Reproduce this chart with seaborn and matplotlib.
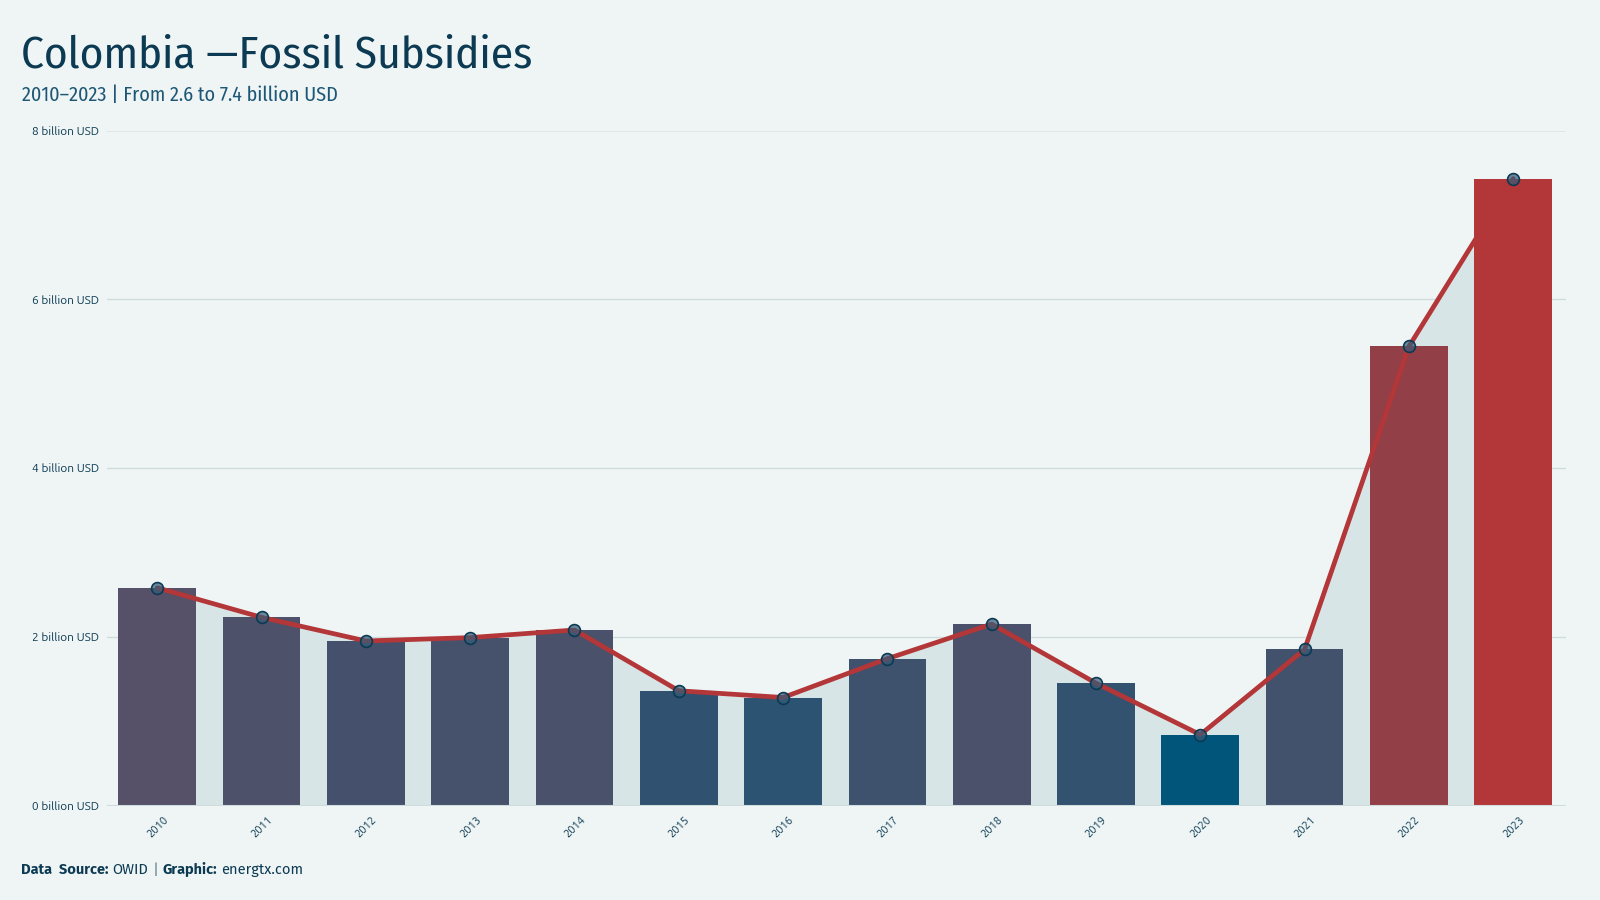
import numpy as np
import pandas as pd
import matplotlib.pyplot as plt
import matplotlib.colors as mcolors
import seaborn as sns

# values (billion USD)
YEARS = ["2010", "2011", "2012", "2013", "2014", "2015", "2016",
         "2017", "2018", "2019", "2020", "2021", "2022", "2023"]
SUBSIDIES = [2.58, 2.23, 1.95, 1.99, 2.08, 1.36, 1.28,
             1.74, 2.15, 1.45, 0.84, 1.85, 5.44, 7.43]
Y_TICKS = [0, 2, 4, 6, 8]

BG = "#eff5f5"
NAVY = "#0b3a52"
RED = "#b33638"
FILL = "#d8e5e6"
GRID = "#cfdcdc"
TITLE_FONT = ["Fira Sans Condensed", "Encode Sans Condensed", "DejaVu Sans"]
FOOT_FONT = ["Fira Sans", "Noto Sans", "DejaVu Sans"]

sns.set_theme(style="white")
plt.rcParams["font.family"] = ["Ubuntu", "Noto Sans", "DejaVu Sans"]

df = pd.DataFrame({"year": YEARS, "value": SUBSIDIES})

# blue -> muted purple -> red, low values blue, high values red
cmap = mcolors.LinearSegmentedColormap.from_list(
    "subs", [(0.0, "#02557a"), (0.52, "#575068"), (1.0, RED)])
norm = mcolors.PowerNorm(gamma=0.5, vmin=min(SUBSIDIES), vmax=max(SUBSIDIES))
palette = {y: cmap(norm(v)) for y, v in zip(YEARS, SUBSIDIES)}

fig = plt.figure(figsize=(16, 9), dpi=100, facecolor=BG)
ax = fig.add_axes([0.067, 0.105, 0.912, 0.75])
ax.set_facecolor(BG)

pos = np.arange(len(YEARS))
ax.fill_between(pos, df["value"], 0, color=FILL, lw=0, zorder=1)

sns.barplot(data=df, x="year", y="value", hue="year", palette=palette,
            width=0.745, saturation=1, legend=False, linewidth=0, ax=ax)
for p in ax.patches:
    p.set_zorder(2)
ax.patches[-1].set_zorder(4)

ax.plot(pos, df["value"], color=RED, lw=3.4, zorder=3, solid_capstyle="round")
ax.plot(pos, df["value"], ls="none", marker="o", ms=8.5,
        mfc=(0.2, 0.36, 0.47, 0.7), mec=NAVY, mew=1.2, zorder=5)

ax.set_ylim(0, 8)
ax.set_xlim(-0.48, 13.51)
ax.set_yticks(Y_TICKS)
ax.set_yticklabels([f"{t} billion USD" for t in Y_TICKS], fontsize=8.5, color=NAVY)
ax.set_xticks(pos)
ax.set_xticklabels(YEARS, rotation=45, fontsize=8, color=NAVY)
ax.tick_params(axis="both", length=0, pad=6)
ax.set_xlabel("")
ax.set_ylabel("")
for t in Y_TICKS[1:-1]:
    ax.axhline(t, color=GRID, lw=1, zorder=0)
ax.axhline(8, color=GRID, lw=1.2, ls=(0, (1, 0.6)), zorder=0)
ax.axhline(0, color=GRID, lw=1.5, zorder=6)
sns.despine(ax=ax, left=True, bottom=True)

fig.text(0.013, 0.925, "Colombia —Fossil Subsidies", fontsize=32.5, color=NAVY,
         family=TITLE_FONT)
fig.text(0.014, 0.888, "2010–2023 | From 2.6 to 7.4 billion USD", fontsize=14.5,
         color="#1d5775", family=TITLE_FONT)

# footer: pieces chained one after another
parts = [("Data  Source:", "bold", 0), ("OWID", "normal", 3), ("|", "normal", 3),
         ("Graphic:", "bold", 3), ("energtx.com", "normal", 3)]
prev = fig.text(0.013, 0.026, parts[0][0], fontsize=10.5, color=NAVY,
                weight=parts[0][1], family=FOOT_FONT, va="bottom")
for label, w, gap in parts[1:]:
    prev = ax.annotate(label, xy=(1, 0), xycoords=prev, xytext=(gap, 0),
                       textcoords="offset points", fontsize=10.5,
                       color="#5f7f8f" if label == "|" else NAVY,
                       weight=w, family=FOOT_FONT, va="bottom", ha="left",
                       annotation_clip=False)

fig.savefig("out.png", dpi=100, facecolor=BG)
